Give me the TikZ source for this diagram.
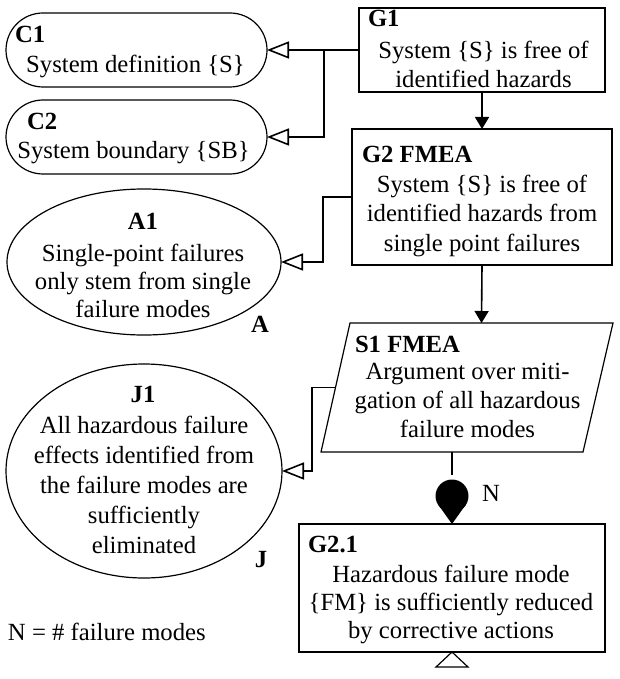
\documentclass[tikz,border=0pt]{standalone}
\usepackage{fontspec}
\setmainfont{Liberation Serif}
\usetikzlibrary{arrows.meta,shapes.geometric}
\begin{document}
\begin{tikzpicture}[x=1pt,y=-1pt,
  every node/.style={inner sep=0pt, outer sep=0pt},
  txt/.style={font=\fontsize{24.7}{29}\selectfont},
  idlbl/.style={font=\fontsize{24.7}{29}\selectfont\bfseries, anchor=base west},
  idctr/.style={font=\fontsize{24.7}{29}\selectfont\bfseries, anchor=base},
  body/.style={align=center, anchor=north},
  shapeline/.style={draw, line width=1.2pt},
  ctxbox/.style={shapeline, rectangle, rounded corners=37pt, minimum width=261pt, minimum height=74pt},
  goalbox/.style={shapeline, rectangle},
  oval/.style={shapeline, ellipse},
  conn/.style={line width=1.6pt},
  ctxarrow/.style={conn, -{Triangle[open, length=22pt, width=17pt, line width=1.6pt]}},
  solidarrow/.style={conn, -{Triangle[length=12pt, width=14pt]}},
]
\useasboundingbox (0,0) rectangle (619,679);

% shapes
\node[ctxbox] (C1) at (136.5,50) {};
\node[ctxbox] (C2) at (136.5,137) {};
\node[goalbox, minimum width=246pt, minimum height=84pt] (G1) at (482,50) {};
\node[goalbox, minimum width=260pt, minimum height=136pt] (G2) at (482,197) {};
\node[oval, minimum width=274pt, minimum height=146pt] (A1) at (144,262) {};
% strategy S1 (parallelogram)
\coordinate (S1bl) at (321,452);
\coordinate (S1tl) at (350,323);
\coordinate (S1tr) at (613,323);
\coordinate (S1br) at (583,452);
\coordinate (S1left) at (335.5,387.5);
\coordinate (S1top) at (481.5,323);
\coordinate (S1bottom) at (452,452);
\draw[shapeline, line join=miter] (S1bl) -- (S1tl) -- (S1tr) -- (S1br) -- cycle;
\node[oval, minimum width=276pt, minimum height=214pt] (J1) at (144,471) {};
\node[goalbox, minimum width=306pt, minimum height=128pt] (G21) at (452,588) {};

% texts
\node[idlbl] (C1id) at (15,43) {C1};
\node[txt, anchor=base] (C1t) at (135.5,73) {System definition \{S\}};
\node[idlbl] (C2id) at (27,130) {C2};
\node[txt, anchor=base] (C2t) at (133.5,159) {System boundary \{SB\}};

\node[idlbl] (G1id) at (368,27) {G1};
\node[body, font=\fontsize{24.7}{29}\selectfont] (G1t) at (483.5,41) {System \{S\} is free of\\identified hazards};

\node[idlbl] (G2id) at (362,162) {G2 FMEA};
\node[body, font=\fontsize{24.7}{29.5}\selectfont] (G2t) at (482,175) {System \{S\} is free of\\identified hazards from\\single point failures};

\node[idctr] (A1id) at (143,229) {A1};
\node[body, font=\fontsize{24.7}{28}\selectfont] (A1t) at (143,244) {Single-point failures\\only stem from single\\failure modes};
\node[idctr] (Alab) at (260,332) {A};

\node[idlbl] (S1id) at (355,352) {S1 FMEA};
\node[body, font=\fontsize{24.7}{29}\selectfont] (S1t) at (467.5,363) {Argument over miti-\\gation of all hazardous\\failure modes};

\node[idctr] (J1id) at (143,402) {J1};
\node[body, font=\fontsize{24.7}{30}\selectfont] (J1t) at (144,416) {All hazardous failure\\effects identified from\\the failure modes are\\sufficiently\\eliminated};
\node[idctr] (Jlab) at (261,567) {J};

\node[idlbl] (G21id) at (308,552) {G2.1};
\node[body, font=\fontsize{24.7}{28.3}\selectfont] (G21t) at (451,565) {Hazardous failure mode\\\{FM\} is sufficiently reduced\\by corrective actions};

\node[txt, anchor=base west] (Nlab) at (482,501) {N};
\node[txt, anchor=base west] (legend) at (8,640) {N = \# failure modes};

% connectors
\coordinate (jC) at (324,0);
\coordinate (jA) at (323,0);
\coordinate (jJ) at (312,0);
\draw[ctxarrow] (G1.west) -- (C1.east);
\draw[ctxarrow] (jC |- G1.west) |- (C2.east);
\draw[solidarrow] (G1.south) -- (G2.north);
\draw[ctxarrow] (G2.west) -- (jA |- G2.west) |- (A1.east);
\draw[solidarrow] (G2.south) -- (S1top);
\draw[ctxarrow] (S1left) -- (jJ |- S1left) |- (J1.east);

% multiplicity connector
\coordinate (ball) at (452,496);
\draw[conn] (S1bottom) -- ++(0,23);
\fill (ball) circle (16.5pt);
\fill (ball) ++(-13.5,9) -- (G21.north) -- ++(13.5,-19) -- cycle;

% undeveloped marker
\draw[line width=1.2pt, line join=miter] (G21.south) -- ++(-16,15) -- ++(32,0) -- cycle;
\end{tikzpicture}
\end{document}
